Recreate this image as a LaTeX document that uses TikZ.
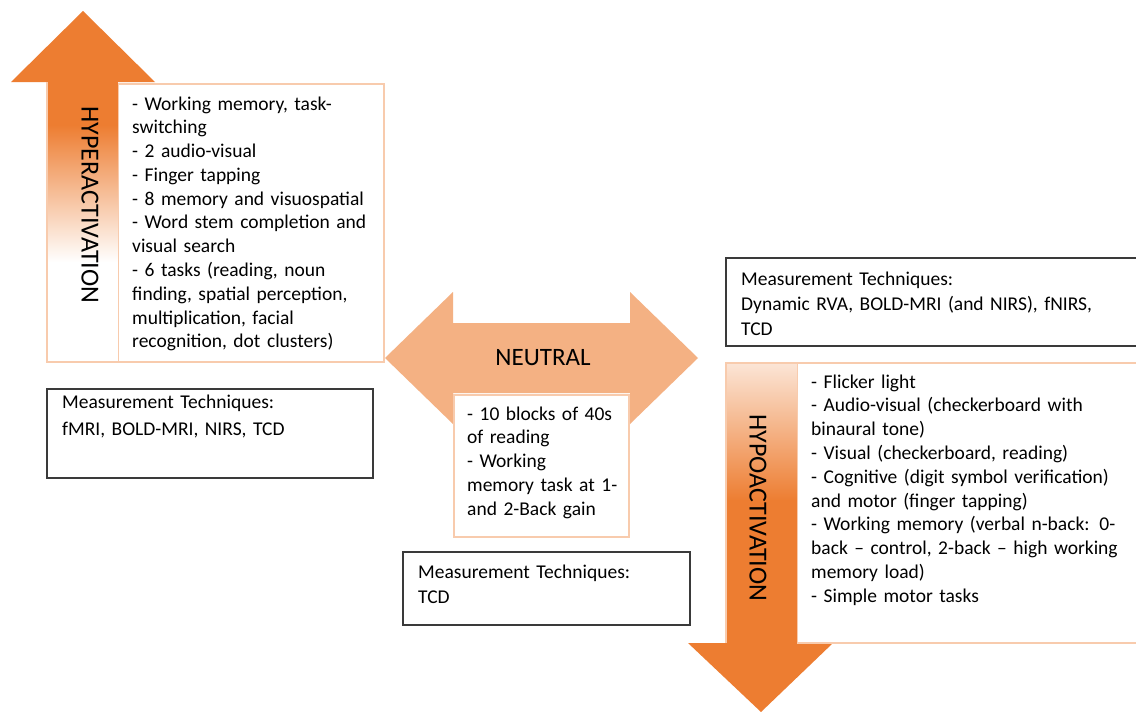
\documentclass[tikz,border=0pt]{standalone}
\usepackage{fontspec}
\setmainfont{Carlito}
\definecolor{orng}{HTML}{ED7D31}
\definecolor{lorng}{HTML}{F4B183}
\definecolor{peach}{HTML}{F8CBAD}
\definecolor{boxline}{HTML}{3A3A3A}
\begin{document}
\begin{tikzpicture}[x=1pt,y=-1pt,
  txt/.style={anchor=base west, inner sep=0pt, align=left, font=\fontsize{19.5}{23.8}\selectfont},
  mtxt/.style={anchor=base west, inner sep=0pt, align=left},
  lbl/.style={inner sep=0pt, font=\fontsize{26}{28}\selectfont},
  pbox/.style={draw=peach, line width=1.3pt},
  mbox/.style={draw=boxline, line width=1.2pt}]
\useasboundingbox (0,0) rectangle (1136,712);
\fill[white] (0,0) rectangle (1136,712);

% ---------------- HYPERACTIVATION ----------------
\fill[orng] (11,82) -- (83,11) -- (155,82) -- cycle;
\fill[orng] (47,81.5) rectangle (118,126);
\shade[top color=orng, bottom color=white] (47,125) rectangle (118,262);
\draw[pbox] (118,84) -- (384,84) -- (384,362) -- (47,362) -- (47,82);
\draw[draw=peach, line width=0.9pt] (118,84) -- (118,362);
\node[lbl, rotate=-90] (hyperlbl) at (90,205) {HYPERACTIVATION};
\node[txt, text width=250pt] (hypertxt) at (132,110) {- Working memory, task-\\switching\\- 2 audio-visual\\- Finger tapping\\- 8 memory and visuospatial\\- Word stem completion and\\visual search\\- 6 tasks (reading, noun\\finding, spatial perception,\\multiplication, facial\\recognition, dot clusters)};

\draw[mbox] (47,389) rectangle (373,478);
\node[mtxt, font=\fontsize{19.5}{27}\selectfont, text width=300pt] (hypermeas) at (62,408) {Measurement Techniques:\\fMRI, BOLD-MRI, NIRS, TCD};

% ---------------- NEUTRAL ----------------
\fill[lorng] (385,358) -- (453,292) -- (453,323) -- (630,323) -- (630,292) -- (698,358) -- (630,424) -- (630,393) -- (453,393) -- (453,424) -- cycle;
\node[inner sep=0pt, anchor=base, font=\fontsize{25}{28}\selectfont] (neutral) at (543,365) {NEUTRAL};
\draw[draw=peach, line width=1.1pt, fill=white] (454,395) rectangle (629,537);
\node[txt, text width=165pt] (neutraltxt) at (467,420) {- 10 blocks of 40s\\of reading\\- Working\\memory task at 1-\\and 2-Back gain};

\draw[mbox] (403,552) rectangle (690,625);
\node[mtxt, font=\fontsize{19.5}{25}\selectfont, text width=270pt] (neutralmeas) at (418,578) {Measurement Techniques:\\TCD};

% ---------------- HYPOACTIVATION ----------------
\draw[mbox] (726,258) rectangle (1142,346);
\node[mtxt, font=\fontsize{19.5}{25}\selectfont, text width=390pt] (hypomeas) at (741,285) {Measurement Techniques:\\Dynamic RVA, BOLD-MRI (and NIRS), fNIRS,\\TCD};

\shade[top color=peach!50, bottom color=orng] (726,363) rectangle (797,501);
\fill[orng] (726,500) rectangle (797,643.5);
\fill[orng] (688,643) -- (833,643) -- (761,712) -- cycle;
\draw[pbox] (726,643) -- (726,363) -- (1142,363) -- (1142,643) -- (797,643);
\draw[draw=peach, line width=0.9pt] (797,363) -- (797,643);
\node[lbl, rotate=-90] (hypolbl) at (758,508) {HYPOACTIVATION};
\node[txt, text width=330pt] (hypotxt) at (811,388) {- Flicker light\\- Audio-visual (checkerboard with\\binaural tone)\\- Visual (checkerboard, reading)\\- Cognitive (digit symbol verification)\\and motor (finger tapping)\\- Working memory (verbal n-back: 0-\\back -- control, 2-back -- high working\\memory load)\\- Simple motor tasks};
\end{tikzpicture}
\end{document}
